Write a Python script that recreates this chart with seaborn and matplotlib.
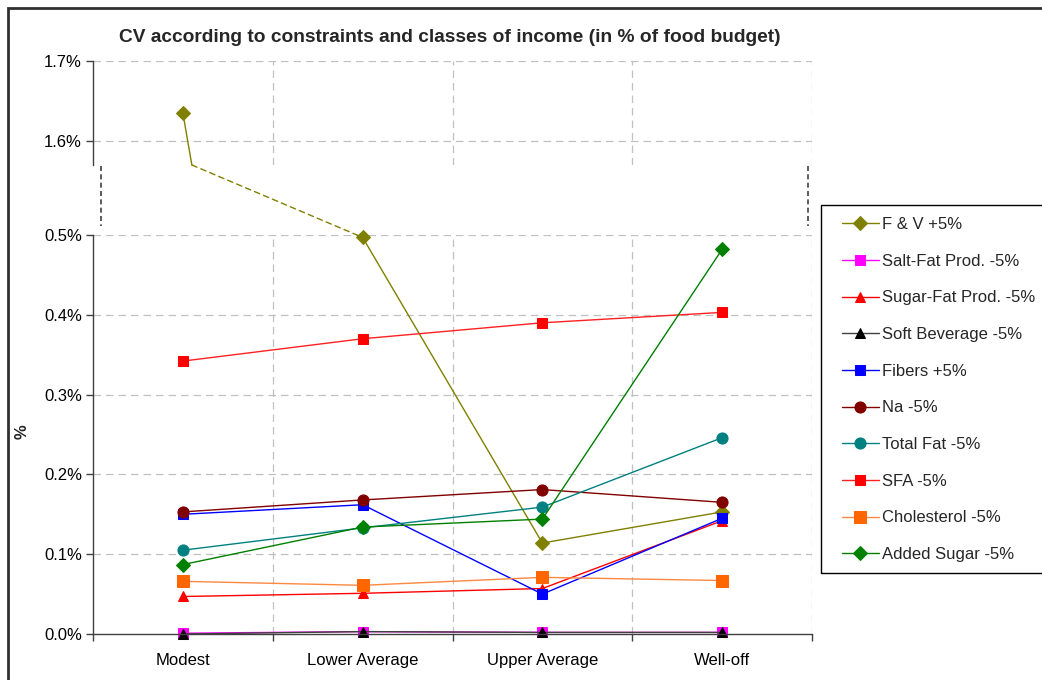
import numpy as np
import pandas as pd
import matplotlib
matplotlib.use("Agg")
import matplotlib.pyplot as plt
from matplotlib.lines import Line2D
from matplotlib.patches import Rectangle, ConnectionPatch
from matplotlib.ticker import FixedLocator, FuncFormatter
import seaborn as sns

# ---- data (CV in % of food budget) ----
classes = ["Modest", "Lower Average", "Upper Average", "Well-off"]

fv = [1.635, 0.497, 0.114, 0.153]
salt_fat = [0.001, 0.003, 0.002, 0.002]
sugar_fat = [0.047, 0.051, 0.057, 0.142]
soft_bev = [0.000, 0.003, 0.002, 0.002]
fibers = [0.150, 0.162, 0.050, 0.145]
na = [0.153, 0.168, 0.181, 0.165]
total_fat = [0.105, 0.133, 0.159, 0.246]
sfa = [0.342, 0.370, 0.390, 0.403]
cholesterol = [0.066, 0.061, 0.071, 0.067]
added_sugar = [0.087, 0.134, 0.144, 0.482]

series_names = ["F & V +5%", "Salt-Fat Prod. -5%", "Sugar-Fat Prod. -5%",
                "Soft Beverage -5%", "Fibers +5%", "Na -5%", "Total Fat -5%",
                "SFA -5%", "Cholesterol -5%", "Added Sugar -5%"]
series_values = [fv, salt_fat, sugar_fat, soft_bev, fibers, na, total_fat,
                 sfa, cholesterol, added_sugar]

# ---- styles ----
colors = ["#808000", "#FF00FF", "#FF0000", "#000000", "#0000FF", "#800000",
          "#008080", "#FF0000", "#FF6600", "#008000"]
line_colors = ["#808000", "#FF00FF", "#FF0000", "#404040", "#0000FF", "#800000",
               "#008080", "#FF2020", "#FF8840", "#008000"]
markers = ["D", "s", "^", "^", "s", "o", "o", "s", "s", "D"]
msizes = [7.5, 6.5, 7.5, 7.5, 6.5, 8, 8, 6.5, 8, 7.5]

sns.set_theme(style="white")
plt.rcParams["font.family"] = ["Liberation Sans", "DejaVu Sans"]
plt.rcParams["font.size"] = 12

W, H = 1042, 680
fig = plt.figure(figsize=(W / 100, H / 100), dpi=100)
fig.patch.set_facecolor("white")

left, right = 93 / W, 812 / W
ax_bot = fig.add_axes([left, 1 - 634 / H, right - left, (634 - 235) / H])
ax_top = fig.add_axes([left, 1 - 165 / H, right - left, (165 - 61) / H])

upper_lim = (1.57, 1.70)
lower_lim = (0.0, 0.50)

pos = np.arange(len(classes))
rows = []
for name, vals in zip(series_names, series_values):
    for p, c, v in zip(pos, classes, vals):
        rows.append({"series": name, "pos": p, "cls": c, "value": v})
df = pd.DataFrame(rows)

for name, col, lcol, mk, ms in zip(series_names, colors, line_colors, markers, msizes):
    sub = df[df["series"] == name]
    low = sub[sub["value"] <= lower_lim[1] + 0.01]
    sns.lineplot(data=low, x="pos", y="value", ax=ax_bot, color=lcol,
                 marker=mk, markersize=ms, markerfacecolor=col,
                 markeredgecolor=col, linewidth=1.0, clip_on=False,
                 label=name, legend=False)
    high = sub[sub["value"] >= upper_lim[0]]
    if len(high):
        sns.lineplot(data=high, x="pos", y="value", ax=ax_top, color=lcol,
                     marker=mk, markersize=ms, markerfacecolor=col,
                     markeredgecolor=col, linewidth=1.0, clip_on=False,
                     legend=False)

# F & V crosses the break: solid drop to the bottom of the upper panel,
# then a dashed link to the next point in the lower panel
p0 = int(df[(df["series"] == series_names[0]) & (df["value"] >= upper_lim[0])]["pos"].iloc[0])
x_break = p0 + 0.05
ax_top.plot([p0, x_break], [fv[p0], upper_lim[0]], color=line_colors[0],
            linewidth=1.0, clip_on=False, zorder=1)
con = ConnectionPatch(xyA=(x_break, upper_lim[0]), coordsA=ax_top.transData,
                      xyB=(p0 + 1, fv[p0 + 1]), coordsB=ax_bot.transData,
                      color=line_colors[0], linewidth=1.0, linestyle=(0, (4, 3)))
fig.add_artist(con)

pct = FuncFormatter(lambda v, _: f"{v:.1f}%")
grid_kw = dict(color="#C0C0C0", linestyle=(0, (6, 4)), linewidth=0.9)

for ax, lim, ticks in [(ax_bot, lower_lim, np.arange(0, 0.51, 0.1)),
                       (ax_top, upper_lim, [1.6, 1.7])]:
    ax.set_xlim(-0.5, len(classes) - 0.5)
    ax.set_ylim(*lim)
    ax.set_facecolor("none")
    ax.set_xlabel("")
    ax.set_ylabel("")
    ax.yaxis.set_major_locator(FixedLocator(ticks))
    ax.yaxis.set_major_formatter(pct)
    ax.xaxis.set_minor_locator(FixedLocator(np.arange(-0.5, len(classes), 1.0)))
    ax.grid(False)
    for t in ticks:
        if t > lim[0] + 1e-9:
            ax.axhline(t, zorder=0, **grid_kw)
    for xb in np.arange(0.5, len(classes), 1.0):
        ax.axvline(xb, zorder=0, **grid_kw)
    for s in ["top", "right"]:
        ax.spines[s].set_visible(False)
    ax.spines["left"].set_color("#404040")
    ax.spines["left"].set_linewidth(1.0)
    ax.tick_params(axis="y", which="major", direction="out", length=5, width=1,
                   color="#404040", labelsize=12, labelcolor="black", pad=3, left=True)

ax_bot.spines["bottom"].set_color("#404040")
ax_bot.spines["bottom"].set_linewidth(1.0)
ax_bot.set_xticks(pos)
ax_bot.set_xticklabels(classes)
ax_bot.tick_params(axis="x", which="major", length=0, pad=14, labelsize=12,
                   labelcolor="black")
ax_bot.tick_params(axis="x", which="minor", direction="out", length=5, width=1,
                   color="#404040", bottom=True)

ax_top.spines["bottom"].set_visible(False)
ax_top.set_xticks([])
ax_top.tick_params(axis="x", which="both", bottom=False, labelbottom=False)

# axis-break marks
for xpix in (101, 808):
    fig.add_artist(Line2D([xpix / W, xpix / W], [1 - 166 / H, 1 - 226 / H],
                          transform=fig.transFigure, color="#404040",
                          linewidth=1.2, linestyle=(0, (3, 2))))

# title and axis label
fig.text(450 / W, 1 - 38 / H,
         "CV according to constraints and classes of income (in % of food budget)",
         ha="center", va="center", fontsize=13.8, fontweight="bold")
fig.text(22 / W, 1 - 432 / H, "%", rotation=90, ha="center", va="center",
         fontsize=12, fontweight="bold")

# legend: frame drawn separately, entries placed inside it
fig.add_artist(Rectangle((821 / W, 1 - 573 / H), 0.3, (573 - 205) / H,
                         transform=fig.transFigure, fill=False,
                         edgecolor="black", linewidth=1.0))
handles, labels = ax_bot.get_legend_handles_labels()
leg = fig.legend(handles, labels, loc="upper left",
                 bbox_to_anchor=(842 / W, 1 - 217 / H), frameon=False,
                 fontsize=12, labelspacing=1.3, handlelength=2.2,
                 handletextpad=0.2, borderpad=0, borderaxespad=0)

# outer chart frame
fig.add_artist(Rectangle((8 / W, -0.05), 1.2, 1 - 8 / H + 0.05,
                         transform=fig.transFigure, fill=False,
                         edgecolor="#303030", linewidth=2.0))

fig.savefig("out.png", dpi=100)
